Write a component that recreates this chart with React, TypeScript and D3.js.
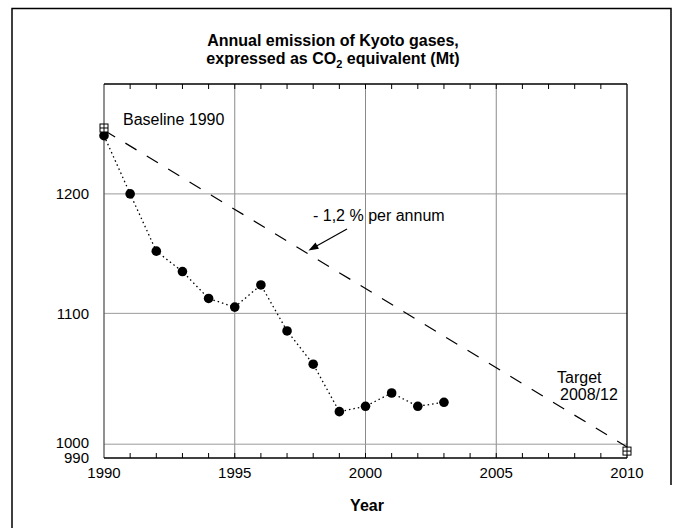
import React, { useEffect, useRef } from "react";
import * as d3 from "d3";

const years = [1990, 1991, 1992, 1993, 1994, 1995, 1996, 1997, 1998, 1999, 2000, 2001, 2002, 2003];
const emissions = [1252, 1200, 1151, 1134, 1112, 1105, 1123, 1086, 1060, 1024, 1028, 1038, 1028, 1031];
const targetYears = [1990, 2010];
const targetPath = [1257, 998];
const markerYears = [1990, 2010];
const markerValues = [1259, 995];
const xTicks = [1990, 1995, 2000, 2005, 2010];
const xGrid = [1995, 2000, 2005];
const yTicks = [990, 1000, 1100, 1200];
const yGrid = [1000, 1100, 1200];
const minorYears = d3.range(1991, 2010);

const W = 683;
const H = 528;
const FONT = "'Liberation Sans', Arial, Helvetica, sans-serif";

export default function App() {
  const ref = useRef<SVGSVGElement | null>(null);

  useEffect(() => {
    const svg = d3.select(ref.current);
    svg.selectAll("*").remove();

    const left = 104, right = 627, top = 84, bottom = 458;
    const x = d3.scaleLinear().domain([1990, 2010]).range([left, right]);
    const y = d3.scaleLog().domain([990, 1300]).range([bottom, top]);

    // outer frame
    svg.append("path")
      .attr("d", `M12,${H + 2} V8.5 H671 V485`)
      .attr("fill", "none").attr("stroke", "#000").attr("stroke-width", 1.5);

    // grid
    const g = svg.append("g");
    g.selectAll("line.vg").data(xGrid).join("line")
      .attr("x1", (d) => x(d)).attr("x2", (d) => x(d))
      .attr("y1", top).attr("y2", bottom)
      .attr("stroke", "#8a8a8a").attr("stroke-width", 1);
    g.selectAll("line.hg").data(yGrid).join("line")
      .attr("x1", left).attr("x2", right)
      .attr("y1", (d) => y(d)).attr("y2", (d) => y(d))
      .attr("stroke", "#9a9a9a").attr("stroke-width", 1);

    // minor ticks top & bottom
    g.selectAll("line.tb").data(minorYears).join("line")
      .attr("x1", (d) => x(d)).attr("x2", (d) => x(d))
      .attr("y1", bottom).attr("y2", bottom - 5)
      .attr("stroke", "#000").attr("stroke-width", 1);
    g.selectAll("line.tt").data(minorYears).join("line")
      .attr("x1", (d) => x(d)).attr("x2", (d) => x(d))
      .attr("y1", top).attr("y2", top + 5)
      .attr("stroke", "#000").attr("stroke-width", 1);

    // axes frame
    svg.append("line").attr("x1", left).attr("x2", left).attr("y1", top).attr("y2", bottom)
      .attr("stroke", "#555").attr("stroke-width", 1.3);
    svg.append("line").attr("x1", left).attr("x2", right).attr("y1", bottom).attr("y2", bottom)
      .attr("stroke", "#000").attr("stroke-width", 1.3);
    svg.append("line").attr("x1", left).attr("x2", right).attr("y1", top).attr("y2", top)
      .attr("stroke", "#000").attr("stroke-width", 1.3);
    svg.append("line").attr("x1", right).attr("x2", right).attr("y1", top).attr("y2", bottom)
      .attr("stroke", "#000").attr("stroke-width", 1.3);

    // tick labels
    svg.selectAll("text.xl").data(xTicks).join("text")
      .attr("x", (d) => x(d)).attr("y", bottom + 20)
      .attr("text-anchor", "middle").attr("font-family", FONT).attr("font-size", 15)
      .text((d) => String(d));
    svg.selectAll("text.yl").data(yTicks).join("text")
      .attr("x", 89).attr("y", (d) => y(d) + (d === 1000 ? 3.5 : 5.3))
      .attr("text-anchor", "end").attr("font-family", FONT).attr("font-size", 15)
      .text((d) => String(d));

    // target dashed line
    const line = d3.line<number>().x((_, i) => x(targetYears[i])).y((d) => y(d));
    svg.append("path").attr("d", line(targetPath) as string)
      .attr("fill", "none").attr("stroke", "#000").attr("stroke-width", 1.2)
      .attr("stroke-dasharray", "13,12");

    // emissions dotted line
    const eline = d3.line<number>().x((_, i) => x(years[i])).y((d) => y(d));
    svg.append("path").attr("d", eline(emissions) as string)
      .attr("fill", "none").attr("stroke", "#000").attr("stroke-width", 1.3)
      .attr("stroke-dasharray", "1.5,3");

    svg.selectAll("circle.pt").data(emissions).join("circle")
      .attr("cx", (_, i) => x(years[i])).attr("cy", (d) => y(d))
      .attr("r", 4.8).attr("fill", "#000");

    // boxed-plus markers
    markerValues.forEach((v, i) => {
      const cx = x(markerYears[i]);
      const cy = y(v);
      const s = 4;
      const mg = svg.append("g");
      mg.append("rect").attr("x", cx - s).attr("y", cy - s).attr("width", 2 * s).attr("height", 2 * s)
        .attr("fill", "#fff").attr("stroke", "#000").attr("stroke-width", 1);
      mg.append("line").attr("x1", cx - s).attr("x2", cx + s).attr("y1", cy).attr("y2", cy)
        .attr("stroke", "#000").attr("stroke-width", 1);
      mg.append("line").attr("x1", cx).attr("x2", cx).attr("y1", cy - s).attr("y2", cy + s)
        .attr("stroke", "#000").attr("stroke-width", 1);
    });

    // annotations
    svg.append("text").attr("x", 123).attr("y", 125)
      .attr("font-family", FONT).attr("font-size", 16).text("Baseline 1990");
    svg.append("text").attr("x", 313).attr("y", 221)
      .attr("font-family", FONT).attr("font-size", 16).text("- 1,2 % per annum");
    svg.append("text").attr("x", 557).attr("y", 383)
      .attr("font-family", FONT).attr("font-size", 16).text("Target");
    svg.append("text").attr("x", 560).attr("y", 400)
      .attr("font-family", FONT).attr("font-size", 16).text("2008/12");

    // arrow
    const ax1 = 347, ay1 = 229, ax2 = 308.5, ay2 = 250.5;
    svg.append("line").attr("x1", ax1).attr("y1", ay1).attr("x2", ax2 + 4).attr("y2", ay2 - 2.2)
      .attr("stroke", "#000").attr("stroke-width", 1.2);
    const ang = Math.atan2(ay2 - ay1, ax2 - ax1);
    const hl = 10, hw = 3.5;
    const bx = ax2 - hl * Math.cos(ang), by = ay2 - hl * Math.sin(ang);
    const px = -Math.sin(ang) * hw, py = Math.cos(ang) * hw;
    svg.append("path")
      .attr("d", `M${ax2},${ay2} L${bx + px},${by + py} L${bx - px},${by - py} Z`)
      .attr("fill", "#000");

    // title
    svg.append("text").attr("x", 333).attr("y", 46).attr("text-anchor", "middle")
      .attr("font-family", FONT).attr("font-size", 16).attr("font-weight", "bold")
      .text("Annual emission of Kyoto gases,");
    const t2 = svg.append("text").attr("x", 333).attr("y", 64).attr("text-anchor", "middle")
      .attr("font-family", FONT).attr("font-size", 16).attr("font-weight", "bold");
    t2.append("tspan").text("expressed as CO");
    t2.append("tspan").attr("font-size", 11).attr("dy", 4).text("2");
    t2.append("tspan").attr("dy", -4).text(" equivalent (Mt)");

    svg.append("text").attr("x", 367).attr("y", 511).attr("text-anchor", "middle")
      .attr("font-family", FONT).attr("font-size", 16).attr("font-weight", "bold")
      .text("Year");
  }, []);

  return (
    <svg
      ref={ref}
      width={W}
      height={H}
      style={{ position: "absolute", left: 0, top: 0, background: "#fff" }}
    />
  );
}
